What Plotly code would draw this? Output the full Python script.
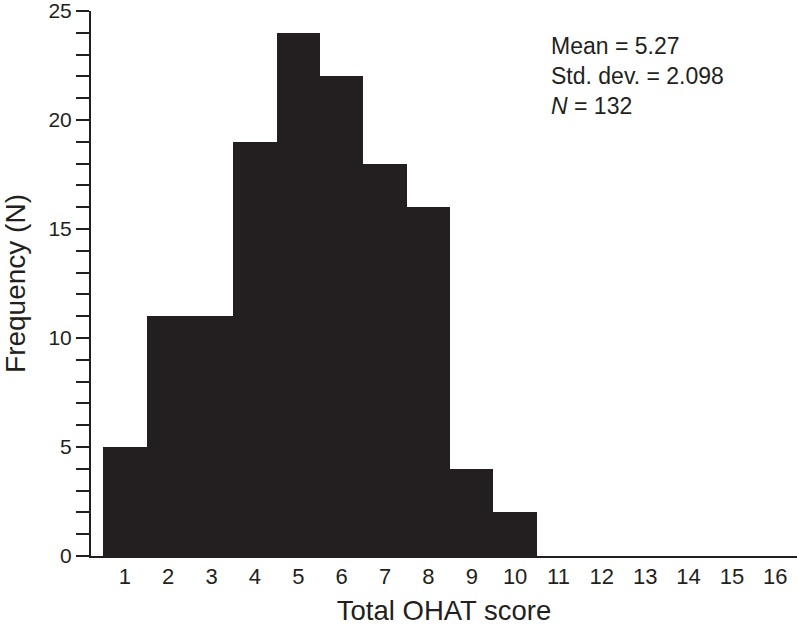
import plotly.graph_objects as go

# OHAT 점수별 빈도
scores = list(range(1, 17))
counts = [5, 11, 11, 19, 24, 22, 18, 16, 4, 2, 0, 0, 0, 0, 0, 0]
tick_labels = [str(s) for s in scores]
y_major = [0, 5, 10, 15, 20, 25]
y_minor = list(range(0, 26))
stats_lines = ['Mean = 5.27', 'Std. dev. = 2.098', '<i>N</i> = 132']

INK = '#231f20'
FONT = 'Liberation Sans, Arial, sans-serif'

fig = go.Figure(go.Bar(x=scores, y=counts, width=1,
                       marker=dict(color=INK, line=dict(width=0))))

fig.update_layout(
    width=797, height=626,
    margin=dict(l=91, r=0, t=11, b=70),
    plot_bgcolor='white', paper_bgcolor='white',
    font=dict(family=FONT, size=22, color=INK),
    showlegend=False,
    bargap=0,
)

fig.update_xaxes(
    range=[0.22, 16.5], automargin=False,
    tickvals=scores, ticktext=tick_labels,
    ticks='', showgrid=False, zeroline=False,
    showline=True, linecolor=INK, linewidth=2,
    tickfont=dict(size=22), ticklabeloverflow='allow',
    title=dict(text='Total OHAT score', font=dict(size=27.5), standoff=15),
)

fig.update_yaxes(
    range=[0, 25], automargin=False,
    tickvals=y_major,
    ticks='outside', ticklen=13, tickwidth=2, tickcolor=INK,
    minor=dict(tickvals=y_minor, ticks='outside', ticklen=13, tickwidth=2, tickcolor=INK),
    showgrid=False, zeroline=False,
    showline=True, linecolor=INK, linewidth=2,
    tickfont=dict(size=21), ticklabeloverflow='allow',
    title=dict(text='Frequency (N)', font=dict(size=28), standoff=18),
)

fig.add_annotation(
    text='<br>'.join(stats_lines),
    xref='paper', yref='paper', x=0.649, y=0.963,
    xanchor='left', yanchor='top', align='left', showarrow=False,
    font=dict(size=23, color=INK),
)

# 페이지 기본 여백 제거
fig.write_html("out.html", config={'displayModeBar': False},
               post_script="document.body.style.margin='0';")
